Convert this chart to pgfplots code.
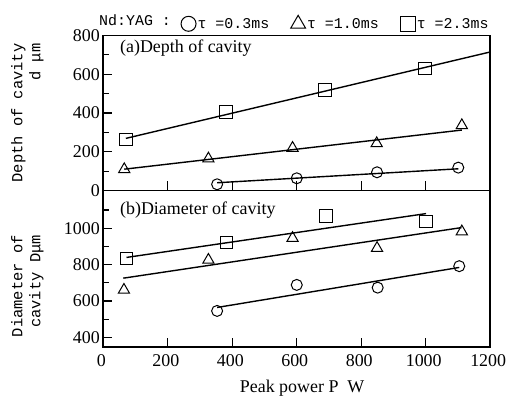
\documentclass[border=0pt]{standalone}
\usepackage{fontspec}
\setmainfont{Liberation Serif}
\setmonofont{Liberation Mono}
\usepackage{pgfplots}
\pgfplotsset{compat=1.18}
\pgfplotsset{
  common/.style={
    scale only axis, width=386.9bp, xmin=0, xmax=1200, clip=false,
    axis line style={line width=1.6bp},
    tick align=inside, tick pos=left,
    major tick length=9bp, minor tick length=6bp,
    every tick/.style={line width=1.2bp, black},
    xtick={0,200,...,1200},
    /pgf/number format/assume math mode=true,
    /pgf/number format/1000 sep={},
    tick label style={font=\fontsize{18}{20}\selectfont},
    xticklabel style={xshift=-2bp, yshift=-4bp},
    ylabel style={font=\ttfamily\fontsize{15.5}{18}\selectfont, align=right, anchor=center},
  },
  fitline/.style={no marks, black, line width=1.4bp, forget plot},
  circ/.style={only marks, black, mark=o, mark size=5.5bp, mark options={fill=white, line width=1bp}, forget plot},
  tri/.style={only marks, black, mark=triangle, mark size=6.5bp, mark options={fill=white, line width=1bp}, forget plot},
  sq/.style={only marks, black, mark=square, mark size=6.2bp, mark options={fill=white, line width=1bp}, forget plot},
}
\begin{document}
\begin{tikzpicture}
\path[use as bounding box] (0,0) rectangle (506bp,399bp);
% ---------------- top panel ----------------
\begin{axis}[common, name=top, at={(103.3bp,208.5bp)}, anchor=south west, height=155bp,
  ymin=0, ymax=800, ytick={0,200,...,800}, minor ytick={100,300,500,700},
  xticklabels={},
  ylabel={Depth of cavity\\d μm\ },
  ylabel style={at={(axis description cs:-0.196,0.5)}},
  legend style={at={(1,1)}, anchor=south east, draw=none, fill=none, yshift=4bp,
    legend columns=3, font=\ttfamily\fontsize{15}{17}\selectfont,
    inner sep=0pt, nodes={inner sep=1.5bp},
    /tikz/every even column/.append style={column sep=20bp}},
  legend image code/.code={\draw[#1] plot coordinates {(7.5bp,0bp)};},
]
\addplot[fitline] coordinates {(70,269) (1200,715)};
\addplot[fitline] coordinates {(65,110) (1112,312)};
\addplot[fitline] coordinates {(353,40) (1101,112)};
\addplot[circ] coordinates {(353,32) (600,63) (849,94) (1101,118)};
\addplot[tri] coordinates {(65,109) (326,164) (587,219) (848,243) (1112,336)};
\addplot[sq] coordinates {(70,264) (380,406) (688,518) (998,630)};
\addlegendimage{only marks, black, mark=o, mark size=7.5bp, mark options={line width=1bp}}
\addlegendentry{τ =0.3ms}
\addlegendimage{only marks, black, mark=triangle, mark size=8.5bp, mark options={line width=1bp}}
\addlegendentry{τ =1.0ms}
\addlegendimage{only marks, black, mark=square, mark size=7.5bp, mark options={line width=1bp}}
\addlegendentry{τ =2.3ms}
\node[anchor=north west, inner sep=0pt, font=\fontsize{18}{20}\selectfont] at (rel axis cs:0.043,0.975) {(a)Depth of cavity};
\end{axis}
% ---------------- bottom panel ----------------
\begin{axis}[common, at={(103.3bp,51.7bp)}, anchor=south west, height=156.8bp,
  ymin=345, ymax=1207, ytick={400,600,800,1000}, minor ytick={500,700,900,1100},
  xlabel={Peak power P\ \ W},
  xlabel style={font=\fontsize{18}{20}\selectfont, at={(axis description cs:0.514,-0.26)}, anchor=center},
  ylabel={Diameter of\\cavity Dμm},
  ylabel style={at={(axis description cs:-0.196,0.39)}},
]
\addplot[fitline] coordinates {(72,839) (1001,1080)};
\addplot[fitline] coordinates {(62,725) (1111,1003)};
\addplot[fitline] coordinates {(353,564) (1104,784)};
\addplot[circ] coordinates {(353,545) (600,688) (851,673) (1104,791)};
\addplot[tri] coordinates {(64,660) (326,825) (587,945) (849,890) (1112,981)};
\addplot[sq] coordinates {(72,833) (383,921) (691,1067) (1001,1036)};
\node[anchor=north west, inner sep=0pt, font=\fontsize{18}{20}\selectfont] at (rel axis cs:0.043,0.93) {(b)Diameter of cavity};
\end{axis}
\node[anchor=base west, inner sep=0pt, font=\ttfamily\fontsize{15}{17}\selectfont] at (99bp,373bp) {Nd:YAG :};
\end{tikzpicture}
\end{document}
